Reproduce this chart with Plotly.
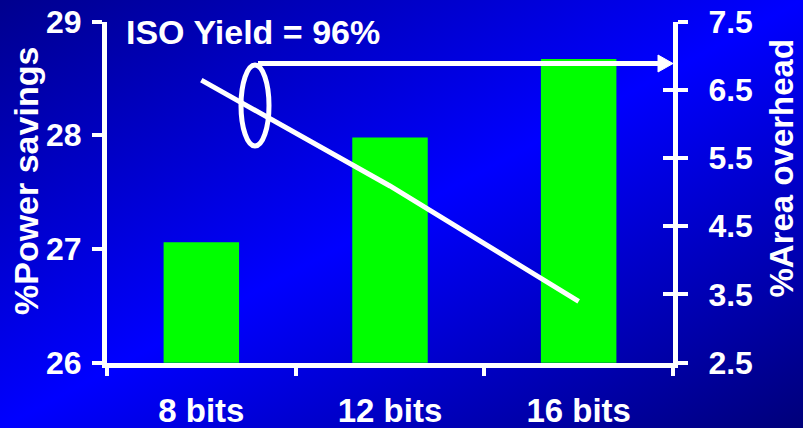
import base64
import plotly.graph_objects as go

W, H = 803, 428

# ---- data ----
categories = ["8 bits", "12 bits", "16 bits"]
power_savings = [27.06, 27.98, 28.67]   # % power savings (bars, left axis)
area_overhead = [6.64, 5.09, 3.40]      # % area overhead (line, right axis)
power_ticks = [26, 27, 28, 29]
area_ticks = [2.5, 3.5, 4.5, 5.5, 6.5, 7.5]
note_text = "ISO Yield = 96%"
left_title = "%Power savings"
right_title = "%Area overhead"

FONT = "Liberation Sans, Arial, Helvetica, sans-serif"
WHITE = "#ffffff"
GREEN = "#00ff00"


def fx(px):
    return px / W


def fy(py):
    return 1 - py / H


# diagonal blue slide-style background
svg = (
    "<svg xmlns='http://www.w3.org/2000/svg' width='803' height='428' "
    "viewBox='0 0 803 428' preserveAspectRatio='none'>"
    "<defs><linearGradient id='g' x1='0' y1='0' x2='1' y2='1'>"
    "<stop offset='0' stop-color='#00008e'/>"
    "<stop offset='0.5' stop-color='#0000ff'/>"
    "<stop offset='1' stop-color='#00007a'/>"
    "</linearGradient></defs>"
    "<rect x='0' y='0' width='803' height='428' fill='url(#g)'/></svg>"
)
bg_uri = "data:image/svg+xml;base64," + base64.b64encode(svg.encode()).decode()

fig = go.Figure()

fig.add_trace(go.Bar(
    x=categories, y=power_savings,
    marker=dict(color=GREEN, line=dict(width=0)),
    showlegend=False, hoverinfo="x+y",
))

fig.add_trace(go.Scatter(
    x=categories, y=area_overhead, yaxis="y2", mode="lines",
    line=dict(color=WHITE, width=5),
    showlegend=False,
))

# carrier for the inward half of the right-axis tick marks
fig.add_trace(go.Scatter(
    x=categories, y=area_overhead, yaxis="y3", mode="lines",
    line=dict(width=0), opacity=0, showlegend=False, hoverinfo="skip",
))

tickfont = dict(family=FONT, size=32, color=WHITE, weight="bold")
catfont = dict(family=FONT, size=33, color=WHITE, weight="bold")

xdom = [fx(107), fx(673)]
ydom = [fy(362.7), fy(21.5)]

fig.update_layout(
    template="none",
    width=W, height=H,
    margin=dict(l=0, r=0, t=0, b=0),
    paper_bgcolor="#0000c0",
    plot_bgcolor="rgba(0,0,0,0)",
    bargap=0.6,
    showlegend=False,
    images=[dict(source=bg_uri, xref="paper", yref="paper", x=0, y=1,
                 sizex=1, sizey=1, sizing="stretch", layer="below")],
    xaxis=dict(
        domain=xdom, type="category", range=[-0.5, 2.5],
        showline=True, linecolor=WHITE, linewidth=5,
        ticks="outside", tickson="boundaries", ticklen=8, tickwidth=4,
        tickcolor=WHITE, tickfont=catfont, ticklabelstandoff=15,
        showgrid=False, zeroline=False, automargin=False,
    ),
    yaxis=dict(
        domain=ydom, range=[26, 29], tickvals=power_ticks,
        showline=True, linecolor=WHITE, linewidth=5,
        ticks="outside", ticklen=10, tickwidth=4, tickcolor=WHITE,
        tickfont=tickfont, ticklabelstandoff=4,
        showgrid=False, zeroline=False, automargin=False,
    ),
    yaxis2=dict(
        overlaying="y", side="right", anchor="x", range=[2.5, 7.5],
        tickvals=area_ticks, ticktext=[f"{v:.1f}" for v in area_ticks],
        showline=True, linecolor=WHITE, linewidth=5,
        ticks="outside", ticklen=10, tickwidth=4, tickcolor=WHITE,
        tickfont=tickfont, ticklabelstandoff=14,
        showgrid=False, zeroline=False, automargin=False,
    ),
    yaxis3=dict(
        overlaying="y", side="right", anchor="x", range=[2.5, 7.5],
        tickvals=area_ticks, showticklabels=False,
        showline=False, ticks="inside", ticklen=10, tickwidth=4,
        tickcolor=WHITE, showgrid=False, zeroline=False, automargin=False,
    ),
)

# axis titles and note
fig.add_annotation(
    text=left_title, xref="paper", yref="paper", x=fx(25.5), y=fy(181.5),
    xanchor="center", yanchor="middle", textangle=-90, showarrow=False,
    font=dict(family=FONT, size=34, color=WHITE, weight="bold"),
)
fig.add_annotation(
    text=right_title, xref="paper", yref="paper", x=fx(780.5), y=fy(168),
    xanchor="center", yanchor="middle", textangle=-90, showarrow=False,
    font=dict(family=FONT, size=33, color=WHITE, weight="bold"),
)
fig.add_annotation(
    text=note_text, xref="paper", yref="paper", x=fx(124), y=fy(32),
    xanchor="left", yanchor="middle", showarrow=False,
    font=dict(family=FONT, size=34, color=WHITE, weight="bold"),
)

# callout: ellipse around the 8-bit overhead, connector to the right axis
fig.add_shape(type="circle", xref="paper", yref="paper",
              x0=fx(241), x1=fx(269), y0=fy(146), y1=fy(65),
              line=dict(color=WHITE, width=5), fillcolor="rgba(0,0,0,0)")
fig.add_shape(type="line", xref="paper", yref="paper",
              x0=fx(258), x1=fx(661), y0=fy(63.5), y1=fy(63.5),
              line=dict(color=WHITE, width=5))
fig.add_shape(type="path", xref="paper", yref="paper",
              path=(f"M {fx(658)},{fy(55)} L {fx(673)},{fy(63.5)} "
                    f"L {fx(658)},{fy(72)} Z"),
              fillcolor=WHITE, line=dict(color=WHITE, width=1))

fig.write_html("out.html")
